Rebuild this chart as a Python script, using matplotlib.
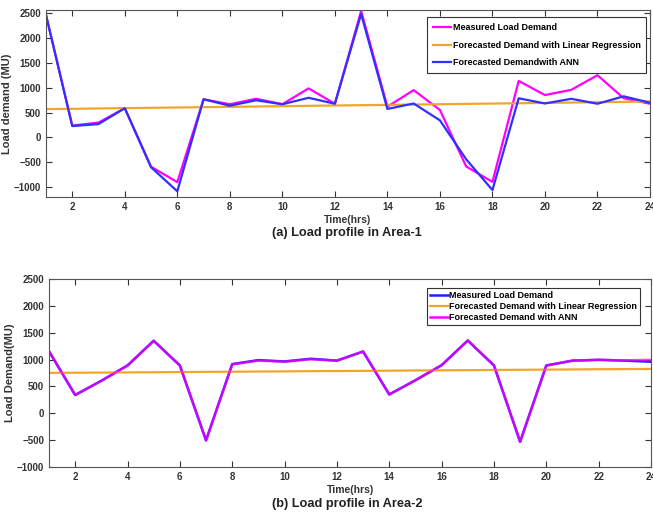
import matplotlib
matplotlib.use("Agg")
import matplotlib.pyplot as plt
from matplotlib.ticker import FixedLocator

hours = list(range(1, 25))

# Area-1
a1_measured = [2470, 240, 300, 590, -590, -900, 770, 670, 780, 670, 990, 680,
               2550, 620, 955, 555, -585, -895, 1140, 855, 960, 1255, 790, 680]
a1_lr = [572, 578, 585, 592, 598, 604, 611, 618, 624, 631, 638, 645,
         651, 657, 664, 670, 677, 684, 690, 697, 704, 711, 718, 725]
a1_ann = [2470, 230, 270, 590, -600, -1085, 770, 640, 750, 670, 800, 680,
          2490, 575, 685, 345, -440, -1060, 790, 685, 780, 680, 830, 700]

# Area-2
a2_measured = [1155, 340, 605, 890, 1350, 890, -505, 915, 990, 965, 1015, 980,
               1150, 350, 615, 895, 1355, 890, -530, 890, 980, 995, 980, 960]
a2_lr = [752, 755, 758, 761, 764, 768, 771, 774, 777, 780, 784, 787,
         790, 793, 797, 800, 803, 806, 810, 813, 816, 820, 823, 826]
a2_ann = [1155, 340, 605, 890, 1350, 890, -505, 910, 980, 960, 1005, 980,
          1150, 350, 615, 895, 1355, 890, -530, 890, 980, 995, 985, 995]

xticks = [2, 4, 6, 8, 10, 12, 14, 16, 18, 20, 22, 24]
yticks = [-1000, -500, 0, 500, 1000, 1500, 2000, 2500]

MAG = "#FF00FF"
BLUE = "#3030FF"
ORANGE = "#EFA62A"
TXT = "#333333"
FONT = "Liberation Sans"

plt.rcParams['font.family'] = [FONT, 'DejaVu Sans']

fig = plt.figure(figsize=(6.53, 5.17), dpi=100)
W, H = 653, 517

def add_axes(left, top, right, bottom):
    return fig.add_axes([left / W, 1 - bottom / H, (right - left) / W, (bottom - top) / H])

def style(ax, ylim, ylabel):
    ax.set_xlim(1, 24)
    ax.set_ylim(*ylim)
    ax.xaxis.set_major_locator(FixedLocator(xticks))
    ax.yaxis.set_major_locator(FixedLocator(yticks))
    ax.tick_params(direction='in', top=True, right=True, length=4, width=0.8,
                   colors=TXT, labelsize=7, pad=3.5)
    for lab in ax.get_xticklabels() + ax.get_yticklabels():
        lab.set_fontweight('bold')
        lab.set_color(TXT)
    for s in ax.spines.values():
        s.set_color("#555555")
        s.set_linewidth(0.8)
    ax.set_xlabel("Time(hrs)", fontsize=7.5, fontweight='bold', color=TXT, labelpad=2)
    ax.set_ylabel(ylabel, fontsize=8, fontweight='bold', color=TXT, labelpad=1)

# Top
ax1 = add_axes(46, 10, 650, 197)
ax1.plot(hours, a1_measured, color=MAG, lw=1.6, label="Measured Load Demand")
ax1.plot(hours, a1_lr, color=ORANGE, lw=1.6, label="Forecasted Demand with Linear Regression")
ax1.plot(hours, a1_ann, color=BLUE, lw=1.6, label="Forecasted Demandwith ANN")
style(ax1, (-1200, 2570), "Load demand (MU)")
leg1 = ax1.legend(loc='upper right', bbox_to_anchor=(0.997, 0.97),
                  prop={'weight': 'bold', 'size': 6.5, 'family': [FONT]},
                  frameon=True, fancybox=False, edgecolor="#333333", framealpha=1,
                  handlelength=2.0, handletextpad=0.15, labelspacing=0.95,
                  borderpad=0.65, borderaxespad=0.2)
leg1.get_frame().set_linewidth(0.8)

# Bottom
ax2 = add_axes(49, 279, 651, 467)
ax2.plot(hours, a2_measured, color="#2020FF", lw=1.8, label="Measured Load Demand")
ax2.plot(hours, a2_lr, color=ORANGE, lw=1.6, label="Forecasted Demand with Linear Regression")
ax2.plot(hours, a2_ann, color=MAG, lw=1.8, alpha=0.72, label="Forecasted Demand with ANN")
style(ax2, (-1000, 2500), "Load Demand(MU)")
leg2 = ax2.legend(loc='upper right', bbox_to_anchor=(0.985, 0.96),
                  prop={'weight': 'bold', 'size': 6.5, 'family': [FONT]},
                  frameon=True, fancybox=False, edgecolor="#333333", framealpha=1,
                  handlelength=2.0, handletextpad=0.15, labelspacing=0.2,
                  borderpad=0.35, borderaxespad=0.2)
leg2.get_frame().set_linewidth(0.8)
for lh in leg2.get_lines():
    lh.set_alpha(1)

fig.text(347 / W, 1 - 233 / H, "(a) Load profile in Area-1", ha='center', va='center',
         fontsize=9.2, fontweight='bold', color="#222222")
fig.text(347 / W, 1 - 504 / H, "(b) Load profile in Area-2", ha='center', va='center',
         fontsize=9.2, fontweight='bold', color="#222222")

fig.savefig("out.png", dpi=100)
